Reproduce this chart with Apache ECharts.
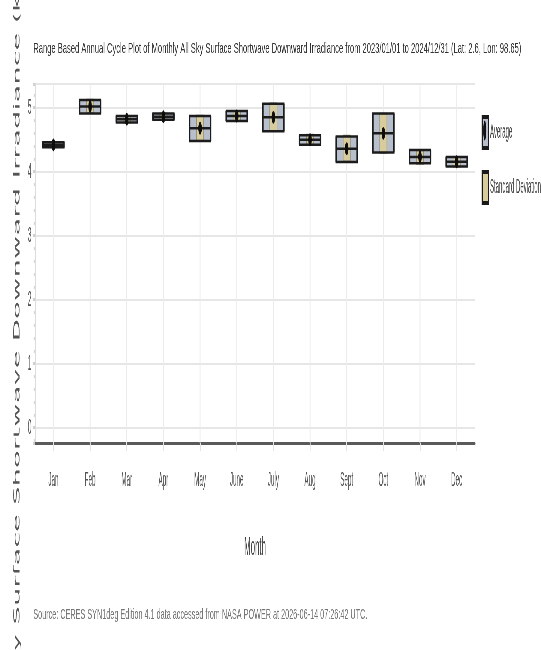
<!DOCTYPE html>
<html>
<head>
<meta charset="utf-8">
<script src="https://cdn.jsdelivr.net/npm/echarts@6/dist/echarts.min.js"></script>
<style>
html,body{margin:0;padding:0;background:#fff;overflow:hidden;}
#wrap{width:541px;height:650px;overflow:hidden;position:relative;}
#main{width:1803px;height:650px;transform:scaleX(0.30005);transform-origin:0 0;}
</style>
</head>
<body>
<div id="wrap"><div id="main"></div></div>
<script>
// ---- data ----
const months = ['Jan','Feb','Mar','Apr','May','June','July','Aug','Sept','Oct','Nov','Dec'];
const rangeMax = [4.46, 5.12, 4.87, 4.91, 4.87, 4.95, 5.06, 4.57, 4.55, 4.91, 4.34, 4.23];
const rangeMin = [4.38, 4.91, 4.77, 4.81, 4.48, 4.79, 4.63, 4.42, 4.15, 4.30, 4.13, 4.08];
const average  = [4.42, 5.02, 4.82, 4.86, 4.68, 4.87, 4.85, 4.50, 4.36, 4.60, 4.23, 4.155];
const stdDev   = [0.04, 0.105, 0.05, 0.05, 0.195, 0.08, 0.215, 0.075, 0.20, 0.305, 0.105, 0.075];

const titleText = 'Range Based Annual Cycle Plot of Monthly All Sky Surface Shortwave Downward Irradiance from 2023/01/01 to 2024/12/31 (Lat: 2.6, Lon: 98.65)';
const yTitle = 'All Sky Surface Shortwave Downward Irradiance (kW-hr/m^2/day)';
const xTitle = 'Month';
const sourceText = 'Source: CERES SYN1deg Edition 4.1 data accessed from NASA POWER at 2026-06-14 07:26:42 UTC.';

const K = 0.30005; // horizontal squash of the whole canvas
const FONT = 'Liberation Sans';

function fitScale(text, font, targetPx) {
  const c = document.createElement('canvas').getContext('2d');
  c.font = font;
  const w = c.measureText(text).width;
  return (targetPx / K) / w;
}
const titleScale = fitScale(titleText, '15px "' + FONT + '"', 488);
const sourceScale = fitScale(sourceText, '15px "' + FONT + '"', 334);

const chart = echarts.init(document.getElementById('main'));

const BOX_W = 70, SD_W = 24;

const option = {
  animation: false,
  backgroundColor: '#fff',
  textStyle: { fontFamily: FONT },
  grid: { left: 117, right: 220, top: 84, bottom: 207, show: true, borderColor: '#e4e4e4', borderWidth: 2, containLabel: false },
  legend: {
    orient: 'vertical', left: 1605, top: 115, itemWidth: 21, itemHeight: 31, itemGap: 20, padding: 0,
    textStyle: { fontSize: 20, color: '#444', fontFamily: FONT },
    selectedMode: false,
    data: [
      { name: 'Average', icon: 'rect', itemStyle: { color: '#b7bfcc', borderColor: '#1a1a1a', borderWidth: 4 } },
      { name: 'Standard Deviation', icon: 'rect', itemStyle: { color: '#d8cb9c', borderColor: '#1a1a1a', borderWidth: 4 } }
    ]
  },
  xAxis: {
    type: 'category', data: months, boundaryGap: true,
    name: xTitle, nameLocation: 'middle', nameGap: 92,
    nameTextStyle: { fontSize: 26, color: '#444', fontFamily: FONT },
    axisLine: { show: true, onZero: false, lineStyle: { color: '#5a5a5a', width: 3 } },
    axisTick: { show: true, alignWithLabel: true, length: 8, lineStyle: { color: '#e4e4e4', width: 3 } },
    axisLabel: { interval: 0, fontSize: 21, color: '#555', margin: 27, fontFamily: FONT },
    splitLine: { show: false }
  },
  yAxis: {
    type: 'value', min: -0.24, max: 5.37, splitNumber: 5,
    axisLine: { show: true, lineStyle: { color: '#dcdcdc', width: 3 } },
    axisTick: { show: true, length: 7, lineStyle: { color: '#cfcfcf', width: 3 } },
    minorTick: { show: true, splitNumber: 5, length: 5, lineStyle: { color: '#d6d6d6', width: 3 } },
    axisLabel: { fontSize: 22, color: '#555', margin: 12, showMinLabel: false, showMaxLabel: false, fontFamily: FONT,
      formatter: v => (Math.abs(v - Math.round(v)) < 1e-9 ? String(Math.round(v)) : '') },
    splitLine: { show: true, lineStyle: { color: '#e6e6e6', width: 2 } }
  },
  graphic: [
    { type: 'text', x: 111, y: 48.5, scaleX: titleScale, z: 10,
      style: { text: titleText, fontSize: 15, fontFamily: FONT, fill: '#333', align: 'left', verticalAlign: 'middle' } },
    { type: 'text', x: 111, y: 615, scaleX: sourceScale, z: 10,
      style: { text: sourceText, fontSize: 15, fontFamily: FONT, fill: '#777', align: 'left', verticalAlign: 'middle' } },
    { type: 'text', x: 57, y: 251, rotation: Math.PI / 2, z: 10,
      style: { text: yTitle, fontSize: 29, fontFamily: 'DejaVu Sans', fill: '#555', align: 'center', verticalAlign: 'middle' } },
    { type: 'circle', x: 1615.5, y: 130.5, scaleY: 2, z: 100, shape: { cx: 0, cy: 0, r: 5 }, style: { fill: '#111' } }
  ],
  series: [
    {
      name: 'Average', type: 'custom', z: 2, silent: true,
      itemStyle: { color: '#b7bfcc' },
      data: months.map((m, i) => [i, rangeMax[i], rangeMin[i]]),
      renderItem: function (params, api) {
        const i = api.value(0);
        const cx = api.coord([i, 0])[0];
        const yT = api.coord([i, api.value(1)])[1];
        const yB = api.coord([i, api.value(2)])[1];
        const cs = params.coordSys;
        return { type: 'group', children: [
          { type: 'line', shape: { x1: cx, y1: cs.y, x2: cx, y2: cs.y + cs.height }, style: { stroke: '#ececec', lineWidth: 3 } },
          { type: 'rect', shape: { x: cx - BOX_W / 2, y: yT, width: BOX_W, height: yB - yT }, style: { fill: '#b7bfcc' } }
        ]};
      }
    },
    {
      name: 'Standard Deviation', type: 'custom', z: 3, silent: true,
      itemStyle: { color: '#d8cb9c' },
      data: months.map((m, i) => [i, average[i], stdDev[i]]),
      renderItem: function (params, api) {
        const i = api.value(0);
        const a = api.value(1), s = api.value(2);
        const cx = api.coord([i, 0])[0];
        const yT = api.coord([i, a + s])[1];
        const yB = api.coord([i, a - s])[1];
        return { type: 'rect', shape: { x: cx - SD_W / 2, y: yT, width: SD_W, height: yB - yT },
          style: { fill: '#d8cb9c', stroke: '#8f8a74', lineWidth: 2 } };
      }
    },
    {
      name: 'marks', type: 'custom', z: 4, silent: true,
      data: months.map((m, i) => [i, rangeMax[i], rangeMin[i], average[i]]),
      renderItem: function (params, api) {
        const i = api.value(0);
        const cx = api.coord([i, 0])[0];
        const yT = api.coord([i, api.value(1)])[1];
        const yB = api.coord([i, api.value(2)])[1];
        const yA = api.coord([i, api.value(3)])[1];
        const x0 = cx - BOX_W / 2, x1 = cx + BOX_W / 2;
        const dark = '#1c1c1c';
        return { type: 'group', children: [
          { type: 'line', shape: { x1: x0, y1: yT, x2: x0, y2: yB }, style: { stroke: dark, lineWidth: 5 } },
          { type: 'line', shape: { x1: x1, y1: yT, x2: x1, y2: yB }, style: { stroke: dark, lineWidth: 5 } },
          { type: 'line', shape: { x1: x0 - 2, y1: yT, x2: x1 + 2, y2: yT }, style: { stroke: dark, lineWidth: 2.5 } },
          { type: 'line', shape: { x1: x0 - 2, y1: yB, x2: x1 + 2, y2: yB }, style: { stroke: dark, lineWidth: 2.5 } },
          { type: 'line', shape: { x1: x0, y1: yA, x2: x1, y2: yA }, style: { stroke: dark, lineWidth: 2.5 } },
          { type: 'circle', x: cx, y: yA, scaleY: 1.1, shape: { cx: 0, cy: 0, r: 5.8 }, style: { fill: '#0d0d0d' } }
        ]};
      }
    }
  ]
};
chart.setOption(option);
</script>
</body>
</html>
